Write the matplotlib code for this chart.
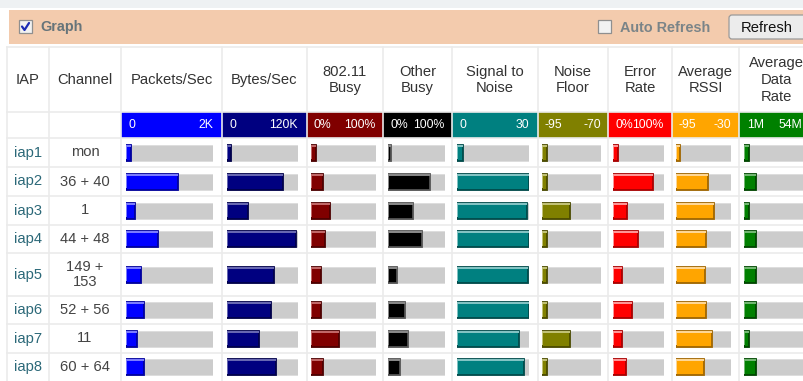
import matplotlib
matplotlib.use("Agg")
import matplotlib.pyplot as plt
from matplotlib.patches import Rectangle, FancyBboxPatch

plt.rcParams['font.family'] = ['Liberation Sans', 'DejaVu Sans']

W, H = 804, 381

# table contents
iaps = ["iap1", "iap2", "iap3", "iap4", "iap5", "iap6", "iap7", "iap8"]
channels = ["mon", "36 + 40", "1", "44 + 48", "149 +\n153", "52 + 56", "11", "60 + 64"]

headers = ["Packets/Sec", "Bytes/Sec", "802.11\nBusy", "Other\nBusy", "Signal to\nNoise",
           "Noise\nFloor", "Error\nRate", "Average\nRSSI", "Average\nData\nRate"]
scale_lo = [0, 0, 0, 0, 0, -95, 0, -95, 1]
scale_hi = [2000, 120000, 100, 100, 30, -70, 100, -30, 54]
scale_lo_txt = ["0", "0", "0%", "0%", "0", "-95", "0%", "-95", "1M"]
scale_hi_txt = ["2K", "120K", "100%", "100%", "30", "-70", "100%", "-30", "54M"]

packets = [110, 1190, 215, 735, 345, 420, 260, 420]
bytes_ = [7200, 94000, 36000, 116500, 79000, 74500, 54000, 83000]
busy_80211 = [7, 18, 30, 22, 16, 16, 43, 18]
other_busy = [6, 74, 43, 59, 15, 29, 35, 21]
snr = [2.4, 30, 29, 30, 29.7, 30, 26, 28]
noise_floor = [-93, -93, -83, -93, -93, -93, -83, -93]
error_rate = [9, 79, 27, 50, 18, 37, 18, 25]
rssi = [-90, -57, -50, -60, -61, -60, -53, -62]
data_rate = [5.5, 11, 5.5, 11, 11, 11, 5.5, 11]
series = [packets, bytes_, busy_80211, other_busy, snr, noise_floor, error_rate, rssi, data_rate]

# face, highlight, shadow
colors = [("#0000ff", "#7f7fff", "#00009c"),
          ("#000080", "#6a6ab4", "#00004a"),
          ("#800000", "#c46a6a", "#4c0000"),
          ("#000000", "#8a8a8a", "#555555"),
          ("#008080", "#86c6c6", "#004a4a"),
          ("#808000", "#c4c47a", "#4a4a00"),
          ("#ff0000", "#ff9a9a", "#a80000"),
          ("#ffa500", "#ffd99a", "#a06600"),
          ("#008000", "#76ba76", "#004600")]

# layout (pixels)
col_edges = [7, 49, 121, 222, 307, 383, 452, 538, 608, 672, 739, 813]
tracks = [(126, 213), (227, 298), (311, 376), (388, 445), (457, 529),
          (542, 601), (613, 664), (676, 731), (744, 806)]
row_edges = [138, 167, 196, 225, 253, 296, 324, 353, 381]
row_mid = [(a + b) / 2 for a, b in zip(row_edges[:-1], row_edges[1:])]
bar_h = 16
grid = "#ebebeb"
fs = 10.6

fig = plt.figure(figsize=(W / 100, H / 100), dpi=100)
fig.patch.set_facecolor("white")
ax = fig.add_axes([0, 0, 1, 1])
ax.set_xlim(0, W)
ax.set_ylim(H, 0)
ax.axis("off")

# top bar
ax.add_patch(Rectangle((0, 0), W, 8, color="#eef1f3", lw=0))
ax.add_patch(Rectangle((9, 10), W - 9, 34, color="#f3cbad", lw=0))


def checkbox(x, y, checked):
    ax.add_patch(Rectangle((x, y), 13, 13, facecolor="#f2f2f2", edgecolor="#8f8f8f", lw=0.9))
    if checked:
        ax.plot([x + 3, x + 5.5, x + 10], [y + 6.5, y + 10, y + 3], color="#1b2bb5", lw=1.6,
                solid_capstyle="round")


checkbox(19, 20, True)
ax.text(40, 27, "Graph", fontsize=10.4, fontweight="bold", color="#66747a", va="center")
checkbox(598, 20, False)
ax.text(620, 28, "Auto Refresh", fontsize=10.4, fontweight="bold", color="#7a8488", va="center")
ax.add_patch(FancyBboxPatch((729, 15), 90, 24, boxstyle="round,pad=0,rounding_size=3",
                            facecolor="#ececec", edgecolor="#9a9a9a", lw=0.9))
ax.text(767, 27.5, "Refresh", fontsize=10.6, color="#111111", ha="center", va="center")

# header row
ax.text(28, 80, "IAP", fontsize=fs, color="#333333", ha="center", va="center")
ax.text(85, 80, "Channel", fontsize=fs, color="#333333", ha="center", va="center")
for i, txt in enumerate(headers):
    cx = (col_edges[i + 2] + col_edges[i + 3]) / 2
    if i == 8:
        cx = 776
    ax.text(cx, 80, txt, fontsize=fs, color="#333333", ha="center", va="center",
            linespacing=1.25)

# scale row cells
for i in range(9):
    x0, x1 = col_edges[i + 2], col_edges[i + 3]
    ax.add_patch(Rectangle((x0, 112), x1 - x0, 26, color=colors[i][0], lw=0))

# row labels
for k in range(len(iaps)):
    ax.text(28, row_mid[k], iaps[k], fontsize=fs, color="#2b6878", ha="center", va="center")
    ax.text(85, row_mid[k], channels[k], fontsize=fs, color="#444444", ha="center",
            va="center", linespacing=1.05)

# grid lines
for x in col_edges[:-1]:
    ax.plot([x, x], [47, H], color=grid, lw=1.2, zorder=3)
for y in [47, 112, 138] + row_edges[1:-1]:
    ax.plot([7, W], [y, y], color=grid, lw=1.2, zorder=3)

# bars: one axes per metric, x scaled to the metric's range
for i, vals in enumerate(series):
    x0, x1 = tracks[i]
    lo, hi = scale_lo[i], scale_hi[i]
    face, light, dark = colors[i]
    bx = fig.add_axes([x0 / W, 0, (x1 - x0) / W, 1])
    bx.set_xlim(lo, hi)
    bx.set_ylim(H, 0)
    bx.axis("off")
    bx.patch.set_alpha(0)

    # last column runs past the right edge; keep its label inside
    hi_shift = -3 if i == 8 else 0
    bx.annotate(scale_lo_txt[i], (lo, 125), xytext=(2, 0), textcoords="offset points",
                fontsize=8.8, color="white", ha="left", va="center", annotation_clip=False)
    bx.annotate(scale_hi_txt[i], (hi, 125), xytext=(hi_shift, 0), textcoords="offset points",
                fontsize=8.8, color="white", ha="right", va="center", annotation_clip=False)

    bx.barh(row_mid, [hi - lo] * len(vals), left=lo, height=bar_h, color="#cccccc",
            edgecolor="#dcdcdc", lw=0.6)
    widths = [v - lo for v in vals]
    bx.barh(row_mid, widths, left=lo, height=bar_h, color=face, edgecolor=dark, lw=1.3)
    tops = [m - bar_h / 2 + 1.2 for m in row_mid]
    bx.hlines(tops, [lo] * len(vals), vals, color=light, lw=1.4)
    bx.vlines([lo] * len(vals), tops, [m + bar_h / 2 - 1.2 for m in row_mid], color=light, lw=1.4)

fig.savefig("out.png", dpi=100)
